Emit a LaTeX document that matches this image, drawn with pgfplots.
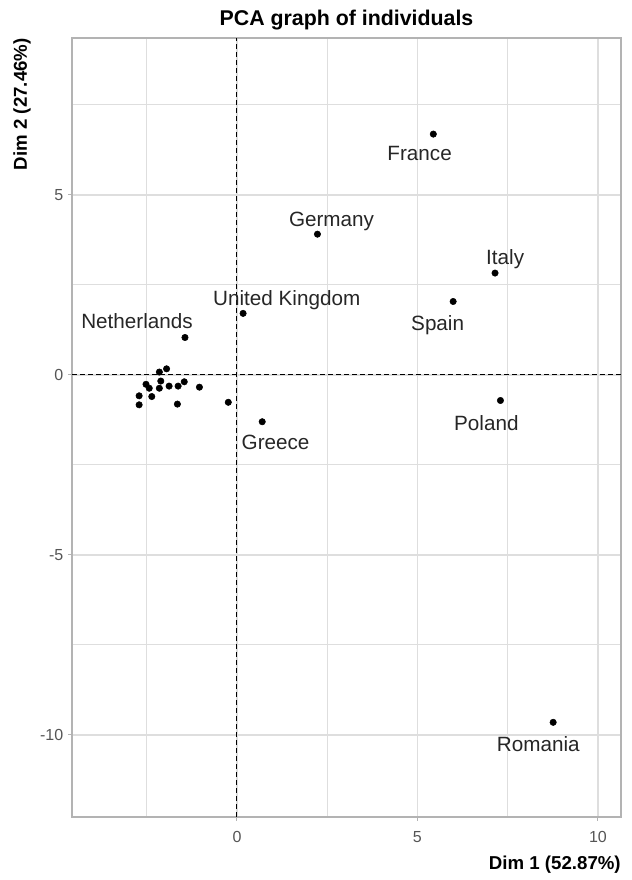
\documentclass[border=0pt]{standalone}
\usepackage{pgfplots}
\pgfplotsset{compat=1.18}
\usepackage{fontspec}
\setmainfont{Liberation Sans}
\definecolor{gridc}{HTML}{DEDEDE}
\definecolor{borderc}{HTML}{B3B3B3}
\definecolor{tickc}{HTML}{555555}
\begin{document}
\begin{tikzpicture}
\useasboundingbox (0,0) rectangle (473.25pt,660pt);
\begin{axis}[
  at={(54pt,47.25pt)}, anchor=south west,
  scale only axis, width=411.75pt, height=584.25pt,
  xmin=-4.57, xmax=10.64, ymin=-12.28, ymax=9.36,
  xtick={0,5,10}, ytick={-10,-5,0,5},
  minor xtick={-2.5,2.5,7.5}, minor ytick={-7.5,-2.5,2.5,7.5},
  grid=both,
  major grid style={gridc, line width=0.9pt},
  minor grid style={gridc, line width=0.7pt},
  axis line style={borderc, line width=0.8pt},
  tick align=outside, tick pos=left,
  major tick length=3pt, minor tick length=0pt,
  tick style={borderc, line width=0.8pt},
  ticklabel style={font=\fontsize{12}{14}\selectfont, text=tickc},
  xticklabel style={yshift=-4.5pt},
  /pgf/number format/assume math mode=true,
  clip=false,
]
\addplot[black, line width=0.8pt, dash pattern=on 3.5pt off 2.5pt] coordinates {(0,-12.28) (0,9.36)};
\addplot[black, line width=0.8pt, dash pattern=on 3.5pt off 2.5pt] coordinates {(-4.57,0) (10.64,0)};
\addplot[only marks, mark=*, mark size=2.4pt, black] table {
x y
5.44 6.69
2.23 3.91
7.15 2.83
5.99 2.04
0.17 1.71
-1.44 1.04
7.30 -0.71
0.70 -1.30
8.76 -9.65
-0.24 -0.76
-1.95 0.17
-2.15 0.08
-2.11 -0.17
-2.15 -0.37
-2.52 -0.26
-2.43 -0.37
-2.71 -0.58
-2.71 -0.83
-2.36 -0.60
-1.88 -0.31
-1.63 -0.31
-1.46 -0.19
-1.04 -0.34
-1.65 -0.81
};
\tikzset{lab/.style={anchor=base, font=\fontsize{15.5}{18}\selectfont, text=black!85, inner sep=0pt}}
\node[lab] at (axis cs:5.06,5.95) {France};
\node[lab] at (axis cs:2.62,4.12) {Germany};
\node[lab] at (axis cs:7.43,3.06) {Italy};
\node[lab] at (axis cs:5.56,1.23) {Spain};
\node[lab] at (axis cs:1.38,1.92) {United Kingdom};
\node[lab] at (axis cs:-2.77,1.30) {Netherlands};
\node[lab] at (axis cs:6.91,-1.53) {Poland};
\node[lab] at (axis cs:1.07,-2.08) {Greece};
\node[lab] at (axis cs:8.35,-10.46) {Romania};
\node[anchor=base, font=\bfseries\fontsize{16}{19}\selectfont, inner sep=0pt] at (rel axis cs:0.5,1) [yshift=9pt] {PCA graph of individuals};
\node[anchor=base east, font=\bfseries\fontsize{14}{17}\selectfont, inner sep=0pt] at (rel axis cs:1,0) [yshift=-39.75pt] {Dim 1 (52.87\%)};
\node[xshift=-33.75pt, rotate=90, anchor=base east, font=\bfseries\fontsize{14}{17}\selectfont, inner sep=0pt] at (rel axis cs:0,1) {Dim 2 (27.46\%)};
\end{axis}
\end{tikzpicture}
\end{document}
